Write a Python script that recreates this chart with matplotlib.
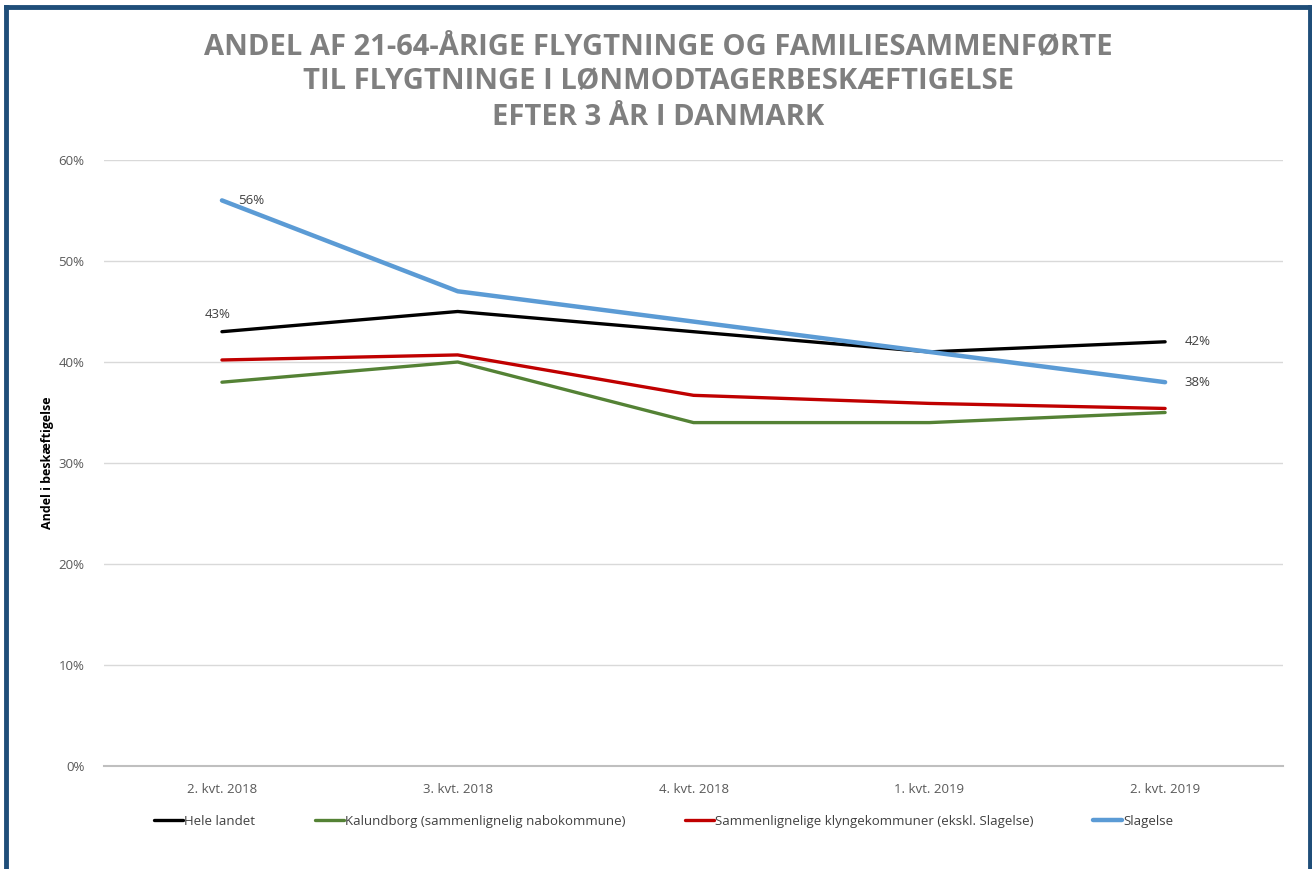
import matplotlib.pyplot as plt
from matplotlib.lines import Line2D
from matplotlib.ticker import PercentFormatter

quarters = ["2. kvt. 2018", "3. kvt. 2018", "4. kvt. 2018", "1. kvt. 2019", "2. kvt. 2019"]
hele_landet = [43, 45, 43, 41, 42]
kalundborg = [38, 40, 34, 34, 35]
klynge = [40.2, 40.7, 36.7, 35.9, 35.4]
slagelse = [56, 47, 44, 41, 38]

names = ["Hele landet", "Kalundborg (sammenlignelig nabokommune)",
         "Sammenlignelige klyngekommuner (ekskl. Slagelse)", "Slagelse"]
colors = ["#000000", "#548235", "#C00000", "#5B9BD5"]
widths = [2.4, 2.4, 2.4, 3.2]

plt.rcParams['font.family'] = ['Open Sans', 'DejaVu Sans']

fig = plt.figure(figsize=(13.12, 8.69), dpi=100)
ax = fig.add_axes([0.0793, 0.1185, 0.8986, 0.6974])

x = range(len(quarters))
for vals, name, c, w in zip([hele_landet, kalundborg, klynge, slagelse], names, colors, widths):
    ax.plot(x, vals, color=c, lw=w, label=name, solid_capstyle='round')

ax.set_xlim(-0.5, 4.5)
ax.set_ylim(0, 60)
ax.set_yticks(range(0, 61, 10))
ax.yaxis.set_major_formatter(PercentFormatter(decimals=0))
ax.set_xticks(list(x))
ax.set_xticklabels(quarters)
ax.grid(axis='y', color='#D9D9D9', lw=1)
ax.set_axisbelow(True)
for s in ['top', 'right', 'left']:
    ax.spines[s].set_visible(False)
ax.spines['bottom'].set_color('#BFBFBF')
ax.spines['bottom'].set_linewidth(1.5)
ax.tick_params(axis='both', length=0, colors='#595959', labelsize=9.5)
ax.tick_params(axis='x', pad=12)
ax.tick_params(axis='y', pad=14)

ax.set_ylabel("Andel i beskæftigelse", fontsize=9, fontweight='bold', color='#000000', labelpad=3)

lab = dict(fontsize=9.5, color='#404040')
ax.annotate("56%", (0, slagelse[0]), xytext=(12, 0), textcoords='offset points', va='center', **lab)
ax.annotate("43%", (0, hele_landet[0]), xytext=(-3, 10), textcoords='offset points', ha='center', **lab)
ax.annotate("42%", (4, hele_landet[4]), xytext=(14, 0), textcoords='offset points', va='center', **lab)
ax.annotate("38%", (4, slagelse[4]), xytext=(14, 0), textcoords='offset points', va='center', **lab)

fig.legend(loc='center', bbox_to_anchor=(0.506, 0.055), ncol=4, frameon=False,
           fontsize=9.5, handlelength=2.2, handletextpad=0.1, columnspacing=4.5,
           labelcolor='#404040')

title = "ANDEL AF 21-64-ÅRIGE FLYGTNINGE OG FAMILIESAMMENFØRTE\nTIL FLYGTNINGE I LØNMODTAGERBESKÆFTIGELSE\nEFTER 3 ÅR I DANMARK"
fig.text(0.502, 0.906, title, ha='center', va='center', fontsize=21, fontweight='bold',
         color='#7F7F7F', linespacing=1.3)

border = '#1F4E79'
fig.add_artist(Line2D([0.0045, 0.9985], [0.9915, 0.9915], color=border, lw=3.5, transform=fig.transFigure))
fig.add_artist(Line2D([0.0045, 0.0045], [0, 0.9915], color=border, lw=3.5, transform=fig.transFigure))
fig.add_artist(Line2D([0.9985, 0.9985], [0, 0.9915], color=border, lw=3.5, transform=fig.transFigure))

plt.savefig("out.png", dpi=100)
